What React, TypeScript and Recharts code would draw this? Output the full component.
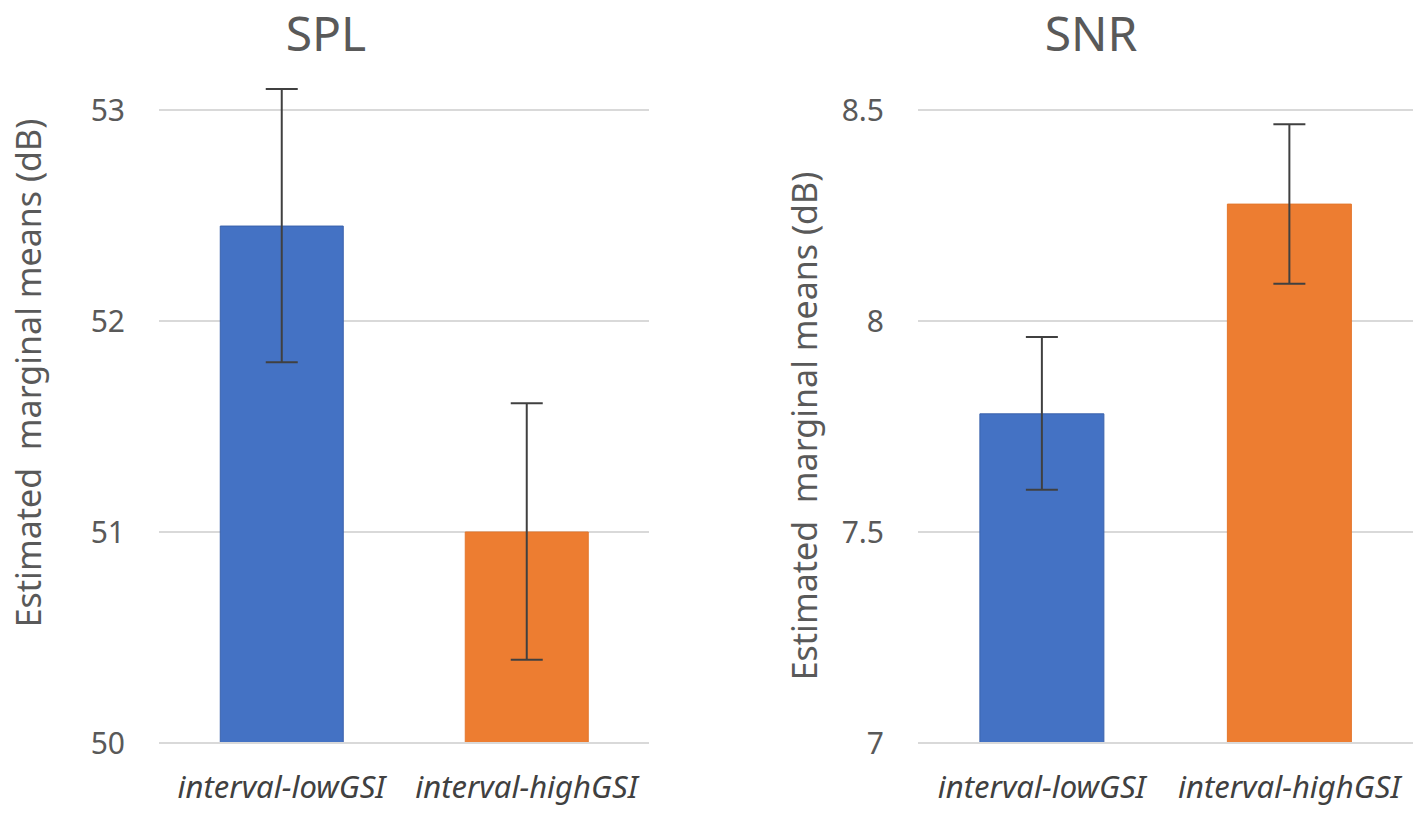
import React from 'react';
import { BarChart, Bar, XAxis, YAxis, CartesianGrid, ErrorBar, Cell, Label } from 'recharts';

// categories and colours shared by both panels
const categories = ['interval-lowGSI', 'interval-highGSI'];
const barColors = ['#4472C4', '#ED7D31'];
const barEdges = ['#3A62AC', '#E3772C'];

// SPL panel (dB)
const splMeans = [52.45, 51.0];
const splUpper = [53.1, 51.61];
const splLower = [51.805, 50.395];
const splTicks = [50, 51, 52, 53];

// SNR panel (dB)
const snrMeans = [7.78, 8.277];
const snrUpper = [7.962, 8.466];
const snrLower = [7.6, 8.088];
const snrTicks = [7, 7.5, 8, 8.5];

const yLabel = 'Estimated\u00a0 marginal means (dB)';
const textGray = '#595959';

function buildRows(means: number[], upper: number[], lower: number[]) {
  return categories.map((name, i) => ({
    name,
    value: means[i],
    err: [means[i] - lower[i], upper[i] - means[i]],
  }));
}

interface PanelProps {
  title: string;
  means: number[];
  upper: number[];
  lower: number[];
  ticks: number[];
  left: number;
  width: number;
  marginLeft: number;
  marginRight: number;
  titleCenter: number;
  labelX: number;
  labelY: number;
}

function Panel(p: PanelProps) {
  const rows = buildRows(p.means, p.upper, p.lower);
  return (
    <div style={{ position: 'absolute', left: p.left, top: 0, width: p.width, height: 816 }}>
      <div
        style={{
          position: 'absolute',
          left: p.titleCenter - 150,
          width: 300,
          top: 0,
          textAlign: 'center',
          fontSize: 48,
          color: textGray,
        }}
      >
        {p.title}
      </div>
      <BarChart
        width={p.width}
        height={816}
        data={rows}
        margin={{ top: 110, right: p.marginRight, bottom: 13, left: p.marginLeft }}
        barCategoryGap="25%"
      >
        <CartesianGrid vertical={false} stroke="#D9D9D9" strokeWidth={2} />
        <XAxis
          dataKey="name"
          height={60}
          axisLine={{ stroke: '#D9D9D9', strokeWidth: 2 }}
          tickLine={false}
          tickMargin={27}
          tick={{ fontSize: 31, fill: '#404040', fontStyle: 'italic' }}
        />
        <YAxis
          width={100}
          domain={[p.ticks[0], p.ticks[p.ticks.length - 1]]}
          ticks={p.ticks}
          allowDataOverflow
          axisLine={false}
          tickLine={false}
          tickMargin={28}
          tick={{ fontSize: 30, fill: textGray }}
        >
          <Label
            content={() => (
              <text
                x={p.labelX}
                y={p.labelY}
                transform={`rotate(-90 ${p.labelX} ${p.labelY})`}
                textAnchor="middle"
                dominantBaseline="central"
                fontSize={34}
                fill={textGray}
              >
                {yLabel}
              </text>
            )}
          />
        </YAxis>
        <Bar dataKey="value" isAnimationActive={false}>
          {rows.map((r, i) => (
            <Cell key={r.name} fill={barColors[i]} stroke={barEdges[i]} strokeWidth={1} />
          ))}
          <ErrorBar dataKey="err" direction="y" width={16} stroke="#404040" strokeWidth={2} />
        </Bar>
      </BarChart>
    </div>
  );
}

export default function App() {
  return (
    <div
      style={{
        position: 'absolute',
        left: 0,
        top: 0,
        width: 1418,
        height: 816,
        background: '#fff',
        fontFamily: '"Noto Sans", "Open Sans", sans-serif',
      }}
    >
      <Panel
        title="SPL"
        means={splMeans}
        upper={splUpper}
        lower={splLower}
        ticks={splTicks}
        left={0}
        width={700}
        marginLeft={59}
        marginRight={51}
        titleCenter={326}
        labelX={28}
        labelY={373}
      />
      <Panel
        title="SNR"
        means={snrMeans}
        upper={snrUpper}
        lower={snrLower}
        ticks={snrTicks}
        left={700}
        width={718}
        marginLeft={118}
        marginRight={5}
        titleCenter={391}
        labelX={104}
        labelY={426}
      />
    </div>
  );
}
